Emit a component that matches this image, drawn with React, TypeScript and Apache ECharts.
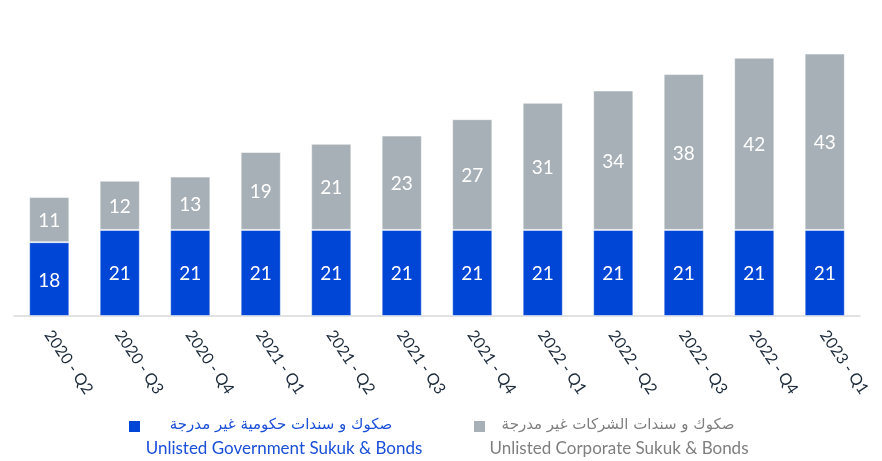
import React, { useEffect, useRef } from "react";
import * as echarts from "echarts";

const categories = [
  "2020 - Q2", "2020 - Q3", "2020 - Q4", "2021 - Q1", "2021 - Q2", "2021 - Q3",
  "2021 - Q4", "2022 - Q1", "2022 - Q2", "2022 - Q3", "2022 - Q4", "2023 - Q1",
];
const governmentValues = [18, 21, 21, 21, 21, 21, 21, 21, 21, 21, 21, 21];
const corporateValues = [11, 12, 13, 19, 21, 23, 27, 31, 34, 38, 42, 43];

const governmentLabelAr = "صكوك و سندات حكومية غير مدرجة";
const governmentLabelEn = "Unlisted Government Sukuk & Bonds";
const corporateLabelAr = "صكوك و سندات الشركات غير مدرجة";
const corporateLabelEn = "Unlisted Corporate Sukuk & Bonds";

const BLUE = "#0046d6";
const GRAY = "#a7b0b6";
const FONT = "Lato, 'DejaVu Sans', sans-serif";
const AR_FONT = "'DejaVu Sans', sans-serif";

export default function App() {
  const ref = useRef<HTMLDivElement>(null);
  useEffect(() => {
    if (!ref.current) return;
    const chart = echarts.init(ref.current, undefined, { renderer: "svg" });
    const labelStyle = {
      show: true,
      position: "inside" as const,
      color: "#ffffff",
      fontSize: 19,
      fontFamily: FONT,
    };
    chart.setOption({
      animation: false,
      grid: { left: 14, right: 22, top: 29, bottom: 145, containLabel: false },
      xAxis: {
        type: "category",
        data: categories,
        axisLine: { lineStyle: { color: "#d9d9d9", width: 1.5 } },
        axisTick: { show: false },
        axisLabel: {
          rotate: -56,
          interval: 0,
          margin: 15,
          color: "#1c2a3a",
          fontSize: 16,
          fontFamily: FONT,
        },
      },
      yAxis: {
        type: "value",
        min: 0,
        max: 70,
        show: false,
        splitLine: { show: false },
      },
      series: [
        {
          name: governmentLabelEn,
          type: "bar",
          stack: "total",
          data: governmentValues,
          barWidth: "57%",
          itemStyle: { color: BLUE, borderColor: "rgba(255,255,255,0.5)", borderWidth: 1 },
          label: labelStyle,
        },
        {
          name: corporateLabelEn,
          type: "bar",
          stack: "total",
          data: corporateValues,
          barWidth: "57%",
          itemStyle: { color: GRAY, borderColor: "rgba(255,255,255,0.5)", borderWidth: 1 },
          label: labelStyle,
        },
      ],
      graphic: [
        { type: "rect", left: 129, top: 421, shape: { width: 11, height: 11 }, style: { fill: BLUE } },
        {
          type: "text", x: 281, y: 424,
          style: { text: governmentLabelAr, fill: "#1a4fd6", fontSize: 15, fontFamily: AR_FONT, textAlign: "center", textVerticalAlign: "middle" },
        },
        {
          type: "text", x: 284, y: 447,
          style: { text: governmentLabelEn, fill: "#1a4fd6", fontSize: 17, fontFamily: FONT, textAlign: "center", textVerticalAlign: "middle" },
        },
        { type: "rect", left: 474, top: 421, shape: { width: 11, height: 11 }, style: { fill: GRAY } },
        {
          type: "text", x: 618, y: 424,
          style: { text: corporateLabelAr, fill: "#7f7f7f", fontSize: 15, fontFamily: AR_FONT, textAlign: "center", textVerticalAlign: "middle" },
        },
        {
          type: "text", x: 619, y: 447,
          style: { text: corporateLabelEn, fill: "#7f7f7f", fontSize: 17, fontFamily: FONT, textAlign: "center", textVerticalAlign: "middle" },
        },
      ],
    });
    return () => chart.dispose();
  }, []);
  return <div ref={ref} style={{ position: "fixed", left: 0, top: 0, width: 882, height: 461 }} />;
}
